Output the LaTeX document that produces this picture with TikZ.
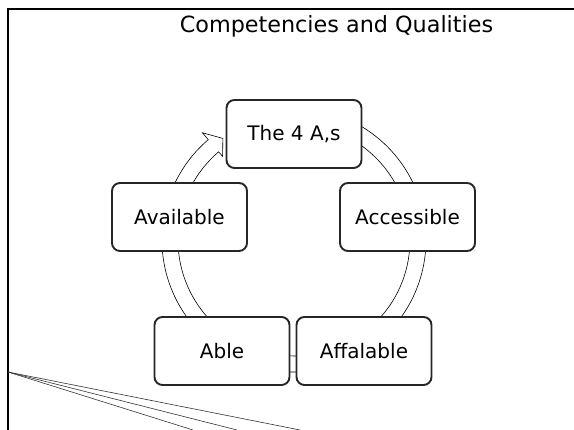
\documentclass[tikz,border=0pt]{standalone}
\usepackage{fontspec}
\setmainfont{DejaVu Sans}
\usepackage{tikz}
\usetikzlibrary{
  positioning
}

\begin{document}
\begin{tikzpicture}[x=1pt,y=1pt,
      stage/.style={
         rectangle,
         rounded corners=8pt,
         minimum width=135pt,
         minimum height=68pt,
         inner sep=0pt,
         line width=1.9pt,
         draw=black!85,
         fill=white,
         font=\fontsize{20}{24}\selectfont
      },
      band/.style={line width=0.6pt,draw=black,fill=white},
      frame/.style={line width=2.4pt,draw=black},
      fan/.style={line width=0.6pt,draw=black!80},
      point/.style={coordinate}
    ]
    \useasboundingbox (0,0) rectangle (574,430);
    % slide border
    \draw[frame] (8,0) |- (574,421);
    \node (title) [anchor=base,font=\fontsize{22.3}{26}\selectfont] at (336.5,397) {Competencies and Qualities};
    % cycle band
    \coordinate (cyc) at (294,190);
    \begin{scope}[shift={(cyc)}]
      \draw[band] (80:132) arc[start angle=80,end angle=-229.5,radius=132]
        -- (-229.5:141) -- (-235:124) -- (-229.5:110) -- (-229.5:116)
        arc[start angle=-229.5,end angle=80,radius=116] -- cycle;
    \end{scope}
    % the five stages
    \node (as)    [stage] at (294,296)   {The 4 A,s};
    \node (acc)   [stage] at (407.5,213) {Accessible};
    \node (avail) [stage] at (179.5,213) {Available};
    \node (able)  [stage] at (222,79)    {Able};
    \node (aff)   [stage] at (364,79)    {Affalable};
    % lines at the bottom left
    \node (f0) [point] at (8,58) {};
    \node (f1) [point] at (193,0) {};
    \node (f2) [point] at (237,0) {};
    \node (f3) [point] at (300,0) {};
    \draw[fan] (f0) -- (f1);
    \draw[fan] (f0) -- (f2);
    \draw[fan] (f0) -- (f3);
\end{tikzpicture}
\end{document}
